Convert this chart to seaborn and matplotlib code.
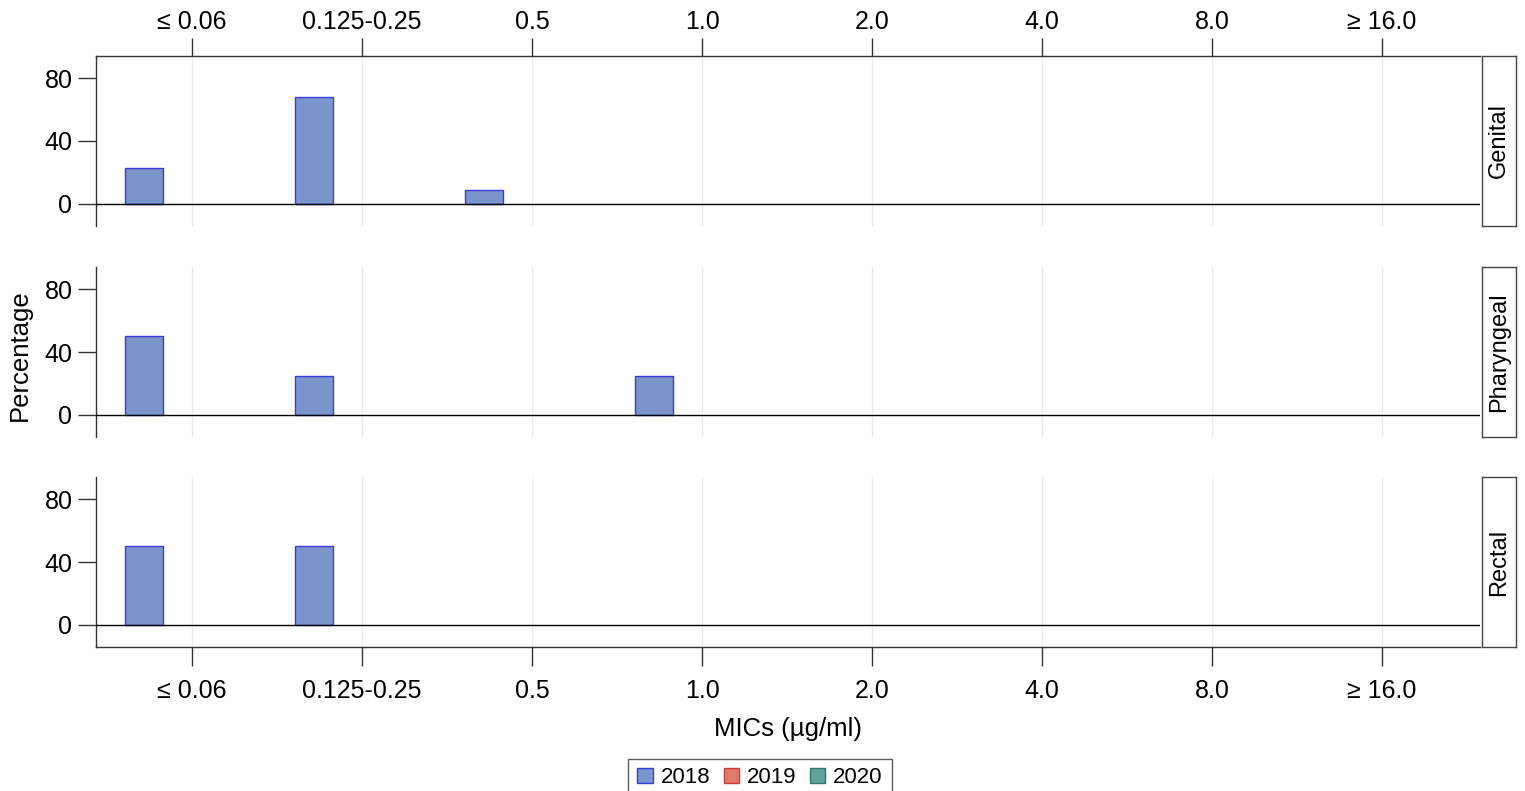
import matplotlib
matplotlib.use("Agg")
import matplotlib.pyplot as plt
import matplotlib.patches as mpatches
import seaborn as sns
import pandas as pd

# ---- data ----
categories = ["≤ 0.06", "0.125-0.25", "0.5", "1.0", "2.0", "4.0", "8.0", "≥ 16.0"]
years = ["2018", "2019", "2020"]
sites = ["Genital", "Pharyngeal", "Rectal"]

# 2018 percentages per MIC category (2019 / 2020 have no bars in the chart)
genital_2018 = [22.7, 68.2, 9.1, 0, 0, 0, 0, 0]
pharyngeal_2018 = [50.0, 25.0, 0, 25.0, 0, 0, 0, 0]
rectal_2018 = [50.0, 50.0, 0, 0, 0, 0, 0, 0]
empty_year = [0, 0, 0, 0, 0, 0, 0, 0]

site_data = {
    "Genital": genital_2018,
    "Pharyngeal": pharyngeal_2018,
    "Rectal": rectal_2018,
}

fills = {"2018": "#7B94CC", "2019": "#E07B6C", "2020": "#5FA39B"}
edges = {"2018": "#3A3AD8", "2019": "#D03A3A", "2020": "#2E7A70"}

sns.set_theme(style="white")
plt.rcParams["font.family"] = ["Liberation Sans", "DejaVu Sans"]

fig = plt.figure(figsize=(15.25, 7.91), dpi=100)

left = 96 / 1525
width = (1480 - 96) / 1525
panels = [(56, 226), (267, 437), (477, 647)]
FS = 18

for i, site in enumerate(sites):
    top_px, bot_px = panels[i]
    ax = fig.add_axes([left, 1 - bot_px / 791, width, (bot_px - top_px) / 791])
    rows = []
    for y, vals in zip(years, [site_data[site], empty_year, empty_year]):
        for c, v in zip(categories, vals):
            rows.append({"MIC": c, "Percentage": v, "Year": y})
    df = pd.DataFrame(rows)
    sns.barplot(data=df, x="MIC", y="Percentage", hue="Year", order=categories,
                hue_order=years, palette=fills, width=0.846, gap=0.205,
                edgecolor=edges["2018"], linewidth=1.0, saturation=1,
                legend=False, ax=ax, zorder=3)
    for p in ax.patches:
        if p.get_height() == 0:
            p.set_visible(False)
    ax.set_xlim(-0.565, 7.576)
    ax.set_ylim(-14, 94)
    ax.set_yticks([0, 40, 80])
    ax.set_xticks(range(len(categories)))
    ax.set_xticklabels(categories)
    ax.set_xlabel("")
    ax.set_ylabel("")
    ax.axhline(0, color="black", lw=1.0, zorder=4)
    ax.grid(axis="x", color="#EBEBEB", lw=1.0, zorder=0)
    ax.set_axisbelow(True)
    for s in ax.spines.values():
        s.set_visible(False)
        s.set_color("#333333")
        s.set_linewidth(1.0)
    ax.spines["left"].set_visible(True)
    ax.tick_params(axis="y", left=True, direction="out", length=13, width=1,
                   color="#333333", labelsize=FS, labelcolor="black", pad=4)
    if i == 0:
        ax.spines["top"].set_visible(True)
        ax.tick_params(axis="x", top=True, labeltop=True, bottom=False, labelbottom=False,
                       direction="out", length=13, width=1, color="#333333",
                       labelsize=FS, labelcolor="black", pad=3)
    elif i == 2:
        ax.spines["bottom"].set_visible(True)
        ax.tick_params(axis="x", bottom=True, labelbottom=True, top=False,
                       direction="out", length=14, width=1, color="#333333",
                       labelsize=FS, labelcolor="black", pad=9)
    else:
        ax.tick_params(axis="x", bottom=False, labelbottom=False, top=False)

    # strip
    sax = fig.add_axes([1482 / 1525, 1 - bot_px / 791, 34 / 1525, (bot_px - top_px) / 791])
    sax.set_xticks([])
    sax.set_yticks([])
    sax.set_facecolor("white")
    for s in sax.spines.values():
        s.set_visible(True)
        s.set_color("#444444")
        s.set_linewidth(1.0)
    sax.text(0.5, 0.5, site, rotation=90, ha="center", va="center",
             fontsize=17, color="black", transform=sax.transAxes)

fig.text(20 / 1525, 1 - 355 / 791, "Percentage", rotation=90, ha="center", va="center",
         fontsize=18.5, color="black")
fig.text(788 / 1525, 1 - 729 / 791, "MICs (µg/ml)", ha="center", va="center",
         fontsize=18.5, color="black")

handles = [mpatches.Patch(facecolor=fills[y], edgecolor=edges[y], linewidth=1.0, label=y)
           for y in years]
leg = fig.legend(handles=handles, loc="lower center", bbox_to_anchor=(760 / 1525, -0.008),
                 ncol=3, frameon=True, fontsize=16, handlelength=0.7, handleheight=0.7,
                 handletextpad=0.35, columnspacing=0.6, borderpad=0.4, borderaxespad=0,
                 fancybox=False, labelcolor="black")
leg.get_frame().set_edgecolor("#333333")
leg.get_frame().set_linewidth(1.0)

fig.savefig("out.png", dpi=100)
